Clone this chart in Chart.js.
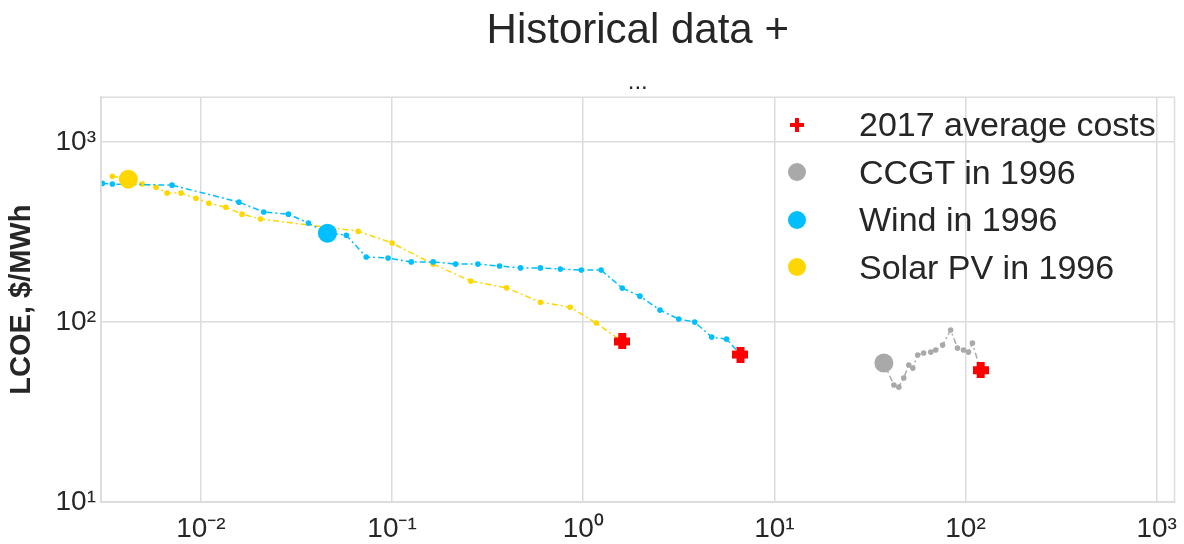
<!DOCTYPE html>
<html lang="en">
<head>
  <meta charset="UTF-8" />
  <title>Historical data +</title>
  <script src="https://cdn.jsdelivr.net/npm/chart.js"></script>
  <style>
    html, body {
      margin: 0;
      padding: 0;
      background: #fff;
    }

    .wrap {
      position: relative;
      width: 1184px;
      height: 544px;
    }

    .legend {
      position: absolute;
      left: 780px;
      top: 101px;
      font-family: 'Liberation Sans', Arial, sans-serif;
      font-size: 34px;
      color: #262626;
    }

    .legend .row {
      display: flex;
      align-items: center;
      height: 47.5px;
    }

    .legend .mark {
      width: 34px;
      display: flex;
      justify-content: center;
      align-items: center;
      margin-right: 45px;
    }

    .legend .dot {
      width: 18px;
      height: 18px;
      border-radius: 50%;
    }
  </style>
</head>
<body>
  <div class="wrap">
    <canvas id="lcoeChart"></canvas>
    <div id="legend" class="legend"></div>
  </div>

  <script>
    // cumulative capacity (x) and LCOE $/MWh (y)
    const solarX = [0.00344, 0.00417, 0.00493, 0.00583, 0.00665, 0.00787, 0.00942, 0.0110, 0.0135, 0.0164, 0.0205, 0.0665, 0.100, 0.164, 0.258, 0.397, 0.597, 0.855, 1.17];
    const solarY = [647, 623, 585, 562, 521, 521, 488, 458, 435, 398, 374, 320, 275, 210, 169, 155, 129, 121, 98.7];

    const windX = [0.00305, 0.00344, 0.00706, 0.0158, 0.0213, 0.0287, 0.0365, 0.0459, 0.0576, 0.0732, 0.0953, 0.126, 0.164, 0.215, 0.281, 0.365, 0.470, 0.597, 0.759, 0.977, 1.24, 1.60, 1.98, 2.52, 3.16, 3.83, 4.70, 5.62];
    const windY = [590, 585, 577, 464, 409, 398, 355, 312, 304, 230, 227, 216, 216, 210, 210, 205, 200, 200, 197, 194.5, 194.5, 154.5, 139.4, 116.6, 104, 100, 82.5, 80.4];

    const ccgtX = [37.4, 42.2, 44.8, 47.5, 50.5, 53.0, 56.2, 60.4, 65.8, 69.8, 75.9, 83.6, 90.8, 97.7, 103.7, 108.7];
    const ccgtY = [59.2, 44.7, 43.5, 48.9, 57.7, 55.5, 65.6, 67.3, 68.1, 69.9, 74.5, 90.3, 71.7, 69.9, 68.1, 76.4];

    // 2017 average costs: solar, wind, ccgt
    const cost2017X = [1.6, 6.65, 120];
    const cost2017Y = [78, 66, 54];

    // 1996 positions: ccgt, wind, solar
    const point1996X = [37.4, 0.0459, 0.00417];
    const point1996Y = [59.2, 312, 623];

    const legendLabels = ['2017 average costs', 'CCGT in 1996', 'Wind in 1996', 'Solar PV in 1996'];

    const xTickValues = [0.01, 0.1, 1, 10, 100, 1000];
    const xTickLabels = ['10\u207B\u00B2', '10\u207B\u00B9', '10\u2070', '10\u00B9', '10\u00B2', '10\u00B3'];
    const yTickValues = [10, 100, 1000];
    const yTickLabels = ['10\u00B9', '10\u00B2', '10\u00B3'];

    const RED = '#ff0000';
    const GRAY = '#a9a9a9';
    const BLUE = '#00bfff';
    const GOLD = '#ffd700';
    const GRID = '#dcdcdc';
    const FONT = "'Liberation Sans', Arial, sans-serif";
    const PLOT_LEFT = 101;
    const PLOT_RIGHT_GAP = 4;

    function plusMarker(size, arm, color) {
      const c = document.createElement('canvas');
      c.width = size;
      c.height = size;
      const g = c.getContext('2d');
      g.fillStyle = color;
      const a = (size - arm) / 2;
      g.fillRect(a, 0, arm, size);
      g.fillRect(0, a, size, arm);
      return c;
    }

    const toPoints = (xs, ys) => xs.map((x, i) => ({ x: x, y: ys[i] }));

    function lineSet(xs, ys, endIdx, color) {
      const pts = toPoints(xs, ys);
      pts.push({ x: cost2017X[endIdx], y: cost2017Y[endIdx] });
      return {
        label: '',
        data: pts,
        showLine: true,
        borderColor: color,
        backgroundColor: color,
        borderWidth: 1.5,
        borderDash: [6, 3, 2, 3],
        pointRadius: 2.8,
        pointBorderWidth: 0,
        order: 3
      };
    }

    const bigColors = [GRAY, BLUE, GOLD];
    const bigSets = point1996X.map((x, i) => ({
      label: legendLabels[i + 1],
      data: [{ x: x, y: point1996Y[i] }],
      backgroundColor: bigColors[i],
      borderColor: bigColors[i],
      pointRadius: 9.5,
      pointBorderWidth: 0,
      order: 2
    }));

    const frame = {
      id: 'frame',
      afterDraw(chart) {
        const a = chart.chartArea;
        const ctx = chart.ctx;
        ctx.save();
        ctx.strokeStyle = GRID;
        ctx.lineWidth = 1.5;
        ctx.strokeRect(a.left, a.top, a.right - a.left, a.bottom - a.top);
        ctx.restore();
      }
    };

    const ctx = document.getElementById('lcoeChart').getContext('2d');
    new Chart(ctx, {
      type: 'scatter',
      data: {
        datasets: [
          {
            label: legendLabels[0],
            data: toPoints(cost2017X, cost2017Y),
            pointStyle: plusMarker(16, 8, RED),
            backgroundColor: RED,
            borderColor: RED,
            order: 1
          },
          ...bigSets,
          lineSet(ccgtX, ccgtY, 2, GRAY),
          lineSet(windX, windY, 1, BLUE),
          lineSet(solarX, solarY, 0, GOLD)
        ]
      },
      options: {
        responsive: true,
        maintainAspectRatio: false,
        animation: false,
        layout: {
          padding: { left: 0, right: PLOT_RIGHT_GAP, top: 0, bottom: 0 }
        },
        plugins: {
          legend: { display: false },
          tooltip: { enabled: false },
          title: {
            display: true,
            text: 'Historical data +',
            fullSize: false,
            color: '#262626',
            font: { family: FONT, size: 42, weight: 'normal' },
            padding: { top: 6, bottom: 0 }
          },
          subtitle: {
            display: true,
            text: '...',
            fullSize: false,
            color: '#262626',
            font: { family: FONT, size: 24 },
            padding: { top: 12, bottom: 0 }
          }
        },
        scales: {
          x: {
            type: 'logarithmic',
            min: 0.003,
            max: 1240,
            afterBuildTicks: (scale) => {
              scale.ticks = xTickValues.map(v => ({ value: v }));
            },
            afterFit: (scale) => {
              scale.height = 42;
              scale.paddingLeft = 0;
              scale.paddingRight = 0;
            },
            grid: { color: GRID, lineWidth: 1.5, drawTicks: false },
            border: { color: GRID, width: 1.5 },
            ticks: {
              padding: 10,
              color: '#262626',
              font: { family: FONT, size: 28 },
              maxRotation: 0,
              autoSkip: false,
              callback: (v, i) => xTickLabels[i]
            }
          },
          y: {
            type: 'logarithmic',
            min: 10,
            max: 1778,
            afterBuildTicks: (scale) => {
              scale.ticks = yTickValues.map(v => ({ value: v }));
            },
            afterFit: (scale) => { scale.width = PLOT_LEFT; },
            grid: { color: GRID, lineWidth: 1.5, drawTicks: false },
            border: { color: GRID, width: 1.5 },
            title: {
              display: true,
              text: 'LCOE, $/MWh',
              color: '#262626',
              font: { family: FONT, size: 29, weight: 'bold' },
              padding: { top: 5, bottom: 0 }
            },
            ticks: {
              padding: 5,
              color: '#262626',
              font: { family: FONT, size: 28 },
              autoSkip: false,
              callback: (v, i) => yTickLabels[i]
            }
          }
        }
      },
      plugins: [frame]
    });

    // legend drawn inside the plot, over the grid
    const legendMarks = [plusMarker(14, 4, RED), GRAY, BLUE, GOLD];
    const legendBox = document.getElementById('legend');
    legendLabels.forEach((text, i) => {
      const row = document.createElement('div');
      row.className = 'row';
      const mark = document.createElement('div');
      mark.className = 'mark';
      if (i === 0) {
        mark.appendChild(legendMarks[0]);
      } else {
        const dot = document.createElement('span');
        dot.className = 'dot';
        dot.style.background = legendMarks[i];
        mark.appendChild(dot);
      }
      const label = document.createElement('span');
      label.textContent = text;
      row.appendChild(mark);
      row.appendChild(label);
      legendBox.appendChild(row);
    });
  </script>
</body>
</html>
